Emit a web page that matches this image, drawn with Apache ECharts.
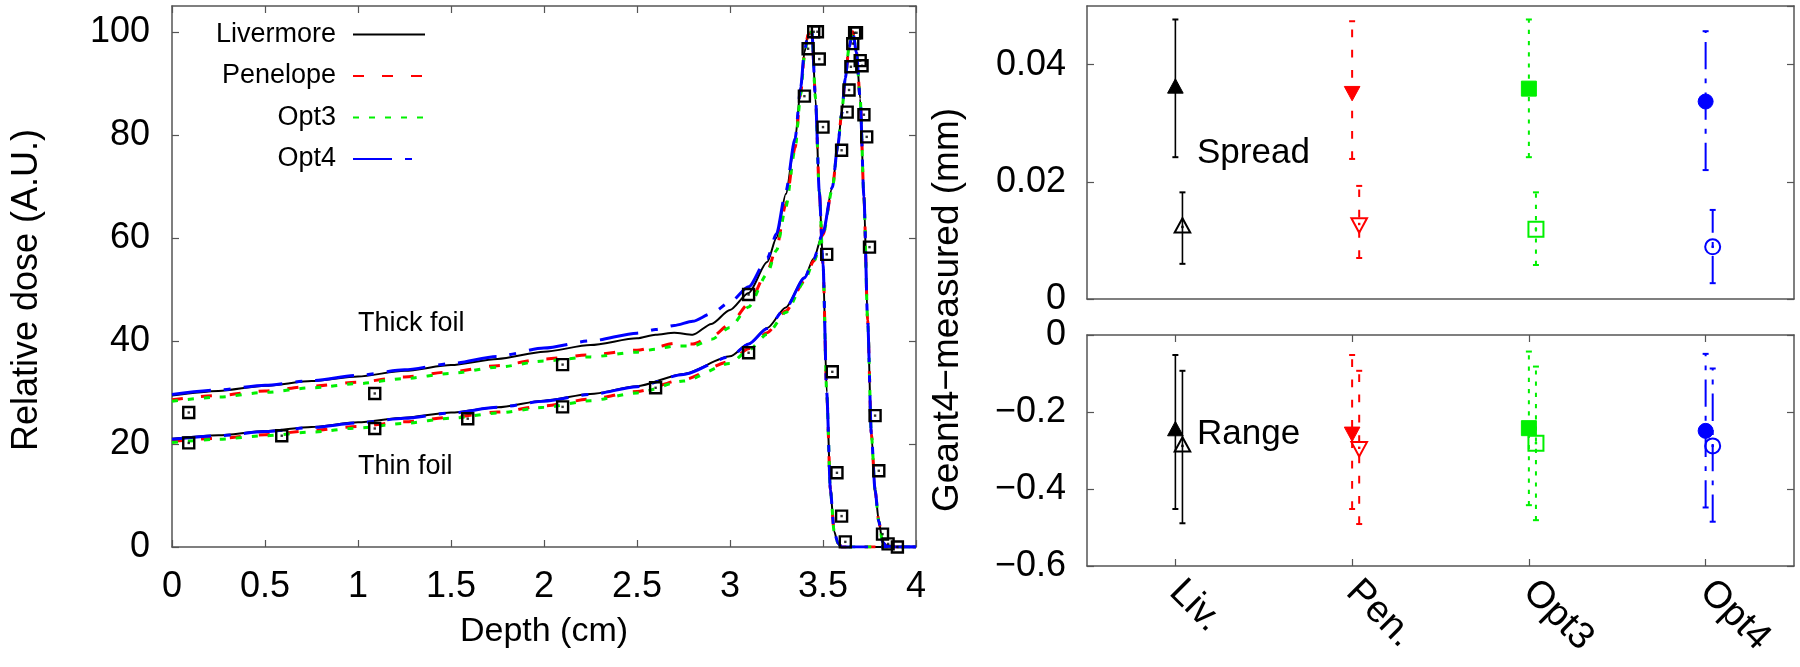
<!DOCTYPE html>
<html>
<head>
<meta charset="utf-8">
<script src="https://cdn.jsdelivr.net/npm/echarts@6/dist/echarts.min.js"></script>
<style>html,body{margin:0;padding:0;background:#fff}#c{width:1800px;height:667px}</style>
</head>
<body>
<div id="c"></div>
<script>
// ---------------- data ----------------
const models = ['Livermore', 'Penelope', 'Opt3', 'Opt4'];
const cats = ['Liv.', 'Pen.', 'Opt3', 'Opt4'];

const thickDepth = [0, 0.25, 0.5, 0.75, 1.0, 1.25, 1.5, 1.75, 2.0, 2.25, 2.5, 2.6, 2.7, 2.8, 2.9, 3.0, 3.1, 3.2, 3.25, 3.3, 3.35, 3.38, 3.4, 3.42, 3.44, 3.46, 3.48, 3.5, 3.52, 3.54, 3.56, 3.58, 3.6, 3.7, 3.8, 3.9, 4.0];
const thickLivermore = [29.4, 30.3, 31.3, 32.2, 33.1, 34.2, 35.3, 36.5, 37.9, 39.2, 40.5, 41.2, 41.6, 41.2, 43.3, 46.0, 49.3, 55.3, 60.0, 68.5, 79.0, 89.0, 96.0, 99.5, 100, 87, 69, 55, 30, 11, 3, 0.8, 0, 0, 0, 0, 0];
const thickPenelope = [28.6, 29.4, 30.3, 31.2, 32.0, 33.0, 34.0, 35.2, 36.5, 37.3, 38.2, 38.8, 39.5, 39.4, 40.8, 43.2, 47.2, 53.5, 58.0, 66.5, 77.5, 88.0, 95.5, 99.5, 100, 87, 69, 55, 30, 11, 3, 0.8, 0, 0, 0, 0, 0];
const thickOpt3 = [28.3, 29.1, 30.0, 30.9, 31.7, 32.7, 33.7, 34.9, 36.1, 36.9, 37.8, 38.4, 39.0, 39.0, 40.3, 42.6, 46.6, 53.0, 57.6, 66.0, 77.2, 87.8, 95.3, 99.4, 100, 87, 69, 55, 30, 11, 3, 0.8, 0, 0, 0, 0, 0];
const thickOpt4 = [29.6, 30.5, 31.4, 32.3, 33.3, 34.4, 35.6, 37.0, 38.6, 40.0, 41.5, 42.2, 43.0, 43.8, 45.3, 47.5, 50.5, 56.0, 60.8, 69.0, 79.3, 89.2, 96.2, 99.6, 100, 87, 69, 55, 30, 11, 3, 0.8, 0, 0, 0, 0, 0];

const thinDepth = [0, 0.25, 0.5, 0.75, 1.0, 1.25, 1.5, 1.75, 2.0, 2.25, 2.5, 2.75, 3.0, 3.1, 3.2, 3.3, 3.4, 3.45, 3.5, 3.55, 3.58, 3.6, 3.62, 3.64, 3.66, 3.68, 3.7, 3.72, 3.74, 3.76, 3.78, 3.8, 3.82, 3.84, 3.9, 4.0];
const thinLivermore = [21.0, 21.7, 22.5, 23.3, 24.2, 25.1, 26.1, 27.1, 28.4, 29.7, 31.2, 33.6, 37.0, 39.4, 42.5, 46.5, 52.3, 56.0, 61.0, 69.8, 78.0, 84.0, 91.0, 97.0, 100, 96.0, 87.0, 68.0, 44.0, 22.0, 11.0, 5.0, 1.0, 0.2, 0, 0];
const thinPenelope = [20.5, 21.1, 21.8, 22.6, 23.4, 24.3, 25.2, 26.2, 27.4, 28.7, 30.2, 32.5, 36.0, 38.5, 41.6, 45.8, 51.6, 55.5, 60.6, 69.6, 78.0, 84.0, 91.0, 97.0, 100, 96.0, 87.0, 68.0, 44.0, 22.0, 11.0, 5.0, 1.0, 0.2, 0, 0];
const thinOpt3 = [20.3, 20.9, 21.6, 22.3, 23.1, 24.0, 25.0, 26.0, 27.1, 28.4, 29.9, 32.2, 35.6, 38.2, 41.3, 45.5, 51.5, 55.4, 60.5, 69.5, 78.0, 84.0, 91.0, 97.0, 100, 96.0, 87.0, 68.0, 44.0, 22.0, 11.0, 5.0, 1.0, 0.2, 0, 0];
const thinOpt4 = [20.9, 21.6, 22.4, 23.2, 24.1, 25.0, 26.0, 27.1, 28.3, 29.6, 31.1, 33.5, 36.9, 39.4, 42.4, 46.4, 52.2, 55.9, 61.0, 69.8, 78.0, 84.0, 91.0, 97.0, 100, 96.0, 87.0, 68.0, 44.0, 22.0, 11.0, 5.0, 1.0, 0.2, 0, 0];

// measured points
const measThickDepth = [0.09, 1.09, 2.10, 3.10, 3.40, 3.42, 3.45, 3.47, 3.48, 3.50, 3.52, 3.55, 3.575, 3.60, 3.62];
const measThickDose = [26.1, 29.8, 35.4, 49.0, 87.5, 96.7, 100, 100, 94.7, 81.5, 56.8, 34.0, 14.4, 6.0, 1.0];
const measThinDepth = [0.09, 0.59, 1.09, 1.59, 2.10, 2.60, 3.10, 3.60, 3.63, 3.64, 3.65, 3.66, 3.67, 3.68, 3.70, 3.71, 3.72, 3.735, 3.75, 3.78, 3.80, 3.82, 3.85, 3.90];
const measThinDose = [20.2, 21.6, 23.0, 24.9, 27.2, 30.9, 37.7, 77.0, 84.4, 88.7, 93.2, 97.7, 99.8, 99.8, 94.4, 93.4, 83.9, 79.6, 58.2, 25.5, 14.8, 2.5, 0.6, 0];

// Geant4 - measured (mm)
const spreadThick = [0.0361, 0.0353, 0.0359, 0.0337];
const spreadThickLow = [0.0242, 0.0239, 0.0242, 0.0220];
const spreadThickHigh = [0.0477, 0.0474, 0.0477, 0.0457];
const spreadThin = [0.0123, 0.0128, 0.0119, 0.0089];
const spreadThinLow = [0.0060, 0.0070, 0.0058, 0.0027];
const spreadThinHigh = [0.0182, 0.0193, 0.0182, 0.0152];
const rangeThick = [-0.247, -0.254, -0.242, -0.249];
const rangeThickLow = [-0.452, -0.452, -0.442, -0.448];
const rangeThickHigh = [-0.052, -0.052, -0.043, -0.049];
const rangeThin = [-0.288, -0.293, -0.281, -0.288];
const rangeThinLow = [-0.489, -0.491, -0.481, -0.485];
const rangeThinHigh = [-0.093, -0.093, -0.082, -0.087];

// ---------------- styles ----------------
const FONT = "'Liberation Sans', Arial, sans-serif";
const colors = ['#000000', '#ff0000', '#00f000', '#0000ff'];
const dashes = ['solid', [11, 18], [6, 10], [39, 13, 7, 13]];
const widths = [2, 3, 3, 3];
const markerKinds = ['triUp', 'triDown', 'square', 'circle'];
const OPEN_OFFSET = 0.04;
const axisColor = '#555';

const thick = [thickLivermore, thickPenelope, thickOpt3, thickOpt4];
const thin = [thinLivermore, thinPenelope, thinOpt3, thinOpt4];
const zip = (xs, ys) => xs.map((x, i) => [x, ys[i]]);

const axLine = {show: true, onZero: false, lineStyle: {color: axisColor, width: 1.5}};
const tickIn = {show: true, inside: true, length: 7, lineStyle: {color: axisColor, width: 1.2}};
const minusFmt = v => String(Math.round(v * 1000) / 1000).replace('-', '\u2212');

function valueAxis(extra) {
  return Object.assign({
    type: 'value', axisLine: axLine, axisTick: tickIn, splitLine: {show: false},
    axisLabel: {show: false}
  }, extra);
}

// ---------------- series ----------------
const series = [];
models.forEach((m, i) => {
  [thick[i], thin[i]].forEach((vals, k) => {
    series.push({
      name: m, type: 'line', xAxisIndex: 0, yAxisIndex: 0,
      data: zip(k === 0 ? thickDepth : thinDepth, vals),
      symbol: 'none', showSymbol: false, smooth: 0.25, smoothMonotone: 'x',
      lineStyle: {color: colors[i], width: widths[i], type: dashes[i]},
      itemStyle: {color: colors[i]},
      z: 2 + i, animation: false
    });
  });
});
[[measThickDepth, measThickDose], [measThinDepth, measThinDose]].forEach(([xs, ys]) => {
  series.push({
    name: 'meas', type: 'scatter', xAxisIndex: 0, yAxisIndex: 0, data: zip(xs, ys),
    symbol: 'rect', symbolSize: 11,
    itemStyle: {color: 'rgba(255,255,255,0)', borderColor: '#000', borderWidth: 2.4, opacity: 1},
    z: 10, animation: false, silent: true
  });
  series.push({
    name: 'measDot', type: 'scatter', xAxisIndex: 0, yAxisIndex: 0, data: zip(xs, ys),
    symbol: 'rect', symbolSize: 2.4, itemStyle: {color: '#000'}, z: 11, animation: false, silent: true
  });
});

function marker(kind, filled, c, p, s) {
  const cx = p[0], cy = p[1];
  const fillStyle = filled ? {fill: c, stroke: c, lineWidth: 1}
                           : {fill: 'rgba(0,0,0,0)', stroke: c, lineWidth: 2};
  let shape;
  if (kind === 'triUp') {
    shape = {type: 'polygon', shape: {points: [[cx, cy - s * 0.58], [cx - s * 0.52, cy + s * 0.38], [cx + s * 0.52, cy + s * 0.38]]}, style: fillStyle};
  } else if (kind === 'triDown') {
    shape = {type: 'polygon', shape: {points: [[cx, cy + s * 0.58], [cx - s * 0.52, cy - s * 0.38], [cx + s * 0.52, cy - s * 0.38]]}, style: fillStyle};
  } else if (kind === 'square') {
    shape = {type: 'rect', shape: {x: cx - s / 2, y: cy - s / 2, width: s, height: s}, style: fillStyle};
  } else {
    shape = {type: 'circle', shape: {cx: cx, cy: cy, r: s / 2}, style: fillStyle};
  }
  const out = [shape];
  if (!filled) out.push({type: 'rect', shape: {x: cx - 1.2, y: cy - 1.2, width: 2.4, height: 2.4}, style: {fill: c}});
  return out;
}

function errSeries(i, xAxisIndex, yAxisIndex, vals, lows, highs, filled) {
  const c = colors[i];
  const dash = dashes[i] === 'solid' ? null : dashes[i].map(d => d * 0.7);
  return {
    type: 'custom', xAxisIndex, yAxisIndex, animation: false, silent: true, z: 5,
    data: [[i + (filled ? 0 : OPEN_OFFSET), vals[i], lows[i], highs[i]]],
    renderItem: function (params, api) {
      const x = api.value(0);
      const p = api.coord([x, api.value(1)]);
      const pl = api.coord([x, api.value(2)]);
      const ph = api.coord([x, api.value(3)]);
      const cap = 3;
      const lw = i === 0 ? 1.6 : 2;
      const children = [
        {type: 'line', shape: {x1: pl[0], y1: pl[1], x2: ph[0], y2: ph[1]}, style: {stroke: c, lineWidth: lw, lineDash: dash}},
        {type: 'line', shape: {x1: pl[0] - cap, y1: pl[1], x2: pl[0] + cap, y2: pl[1]}, style: {stroke: c, lineWidth: 2}},
        {type: 'line', shape: {x1: ph[0] - cap, y1: ph[1], x2: ph[0] + cap, y2: ph[1]}, style: {stroke: c, lineWidth: 2}}
      ].concat(marker(markerKinds[i], filled, c, p, 15));
      return {type: 'group', children};
    }
  };
}
models.forEach((m, i) => {
  series.push(errSeries(i, 2, 2, spreadThick, spreadThickLow, spreadThickHigh, true));
  series.push(errSeries(i, 2, 2, spreadThin, spreadThinLow, spreadThinHigh, false));
  series.push(errSeries(i, 4, 4, rangeThick, rangeThickLow, rangeThickHigh, true));
  series.push(errSeries(i, 4, 4, rangeThin, rangeThinLow, rangeThinHigh, false));
});

// ---------------- option ----------------
const labelStyle = {fontSize: 36, color: '#000', fontFamily: FONT};
const option = {
  backgroundColor: '#fff',
  animation: false,
  textStyle: {fontFamily: FONT},
  grid: [
    {left: 172, top: 6, width: 744, height: 541},
    {left: 1087, top: 6, width: 707, height: 293},
    {left: 1087, top: 335, width: 707, height: 231}
  ],
  xAxis: [
    valueAxis({gridIndex: 0, min: 0, max: 4, interval: 0.5, position: 'bottom',
      axisLabel: Object.assign({show: true, margin: 22}, labelStyle),
      name: 'Depth (cm)', nameLocation: 'middle', nameGap: 68,
      nameTextStyle: {fontSize: 34, color: '#000', fontFamily: FONT}}),
    valueAxis({gridIndex: 0, min: 0, max: 4, interval: 0.5, position: 'top'}),
    valueAxis({gridIndex: 1, min: -0.5, max: 3.5, interval: 1, position: 'bottom', axisTick: {show: false}}),
    valueAxis({gridIndex: 1, min: -0.5, max: 3.5, interval: 1, position: 'top', axisTick: {show: false}}),
    {gridIndex: 2, type: 'value', min: -0.5, max: 3.5, show: false},
    {gridIndex: 2, type: 'category', data: cats, position: 'bottom', boundaryGap: true,
      axisLine: axLine, axisTick: Object.assign({alignWithLabel: true}, tickIn),
      axisLabel: {rotate: -45, margin: 20, fontSize: 38, color: '#000', fontFamily: FONT},
      splitLine: {show: false}},
    {gridIndex: 2, type: 'category', data: cats, position: 'top', boundaryGap: true,
      axisLine: axLine, axisTick: Object.assign({alignWithLabel: true}, tickIn),
      axisLabel: {show: false}, splitLine: {show: false}}
  ],
  yAxis: [
    valueAxis({gridIndex: 0, min: 0, max: 105, interval: 20, position: 'left',
      axisLabel: Object.assign({show: true, margin: 22, showMaxLabel: false}, labelStyle)}),
    valueAxis({gridIndex: 0, min: 0, max: 105, interval: 20, position: 'right'}),
    valueAxis({gridIndex: 1, min: 0, max: 0.05, interval: 0.02, position: 'left',
      axisLabel: Object.assign({show: true, margin: 21, showMaxLabel: false, formatter: minusFmt}, labelStyle)}),
    valueAxis({gridIndex: 1, min: 0, max: 0.05, interval: 0.02, position: 'right'}),
    valueAxis({gridIndex: 2, min: -0.6, max: 0, interval: 0.2, position: 'left',
      axisLabel: Object.assign({show: true, margin: 21, formatter: minusFmt}, labelStyle)}),
    valueAxis({gridIndex: 2, min: -0.6, max: 0, interval: 0.2, position: 'right'})
  ],
  legend: models.map((m, i) => ({
    data: [m], orient: 'vertical', align: 'right', right: 1800 - 431, top: 16 + i * 41.5,
    itemWidth: 72, itemHeight: 14, selectedMode: false,
    itemStyle: {opacity: 0},
    textStyle: {fontSize: 27, color: '#000', fontFamily: FONT, padding: [0, 12, 0, 0]}
  })),
  graphic: [
    {type: 'text', left: 358, top: 310, style: {text: 'Thick foil', fontSize: 27, fontFamily: FONT, fill: '#000'}},
    {type: 'text', left: 358, top: 453, style: {text: 'Thin foil', fontSize: 27, fontFamily: FONT, fill: '#000'}},
    {type: 'text', left: 1197, top: 136, style: {text: 'Spread', fontSize: 35, fontFamily: FONT, fill: '#000'}},
    {type: 'text', left: 1197, top: 417, style: {text: 'Range', fontSize: 35, fontFamily: FONT, fill: '#000'}},
    {type: 'text', x: 27, y: 290, rotation: Math.PI / 2,
      style: {text: 'Relative dose (A.U.)', fontSize: 36, fontFamily: FONT, fill: '#000', align: 'center', verticalAlign: 'middle'}},
    {type: 'text', x: 948, y: 310, rotation: Math.PI / 2,
      style: {text: 'Geant4\u2212measured (mm)', fontSize: 37, fontFamily: FONT, fill: '#000', align: 'center', verticalAlign: 'middle'}}
  ],
  series: series
};
const chart = echarts.init(document.getElementById('c'), null, {renderer: 'canvas'});
chart.setOption(option);
</script>
</body>
</html>
